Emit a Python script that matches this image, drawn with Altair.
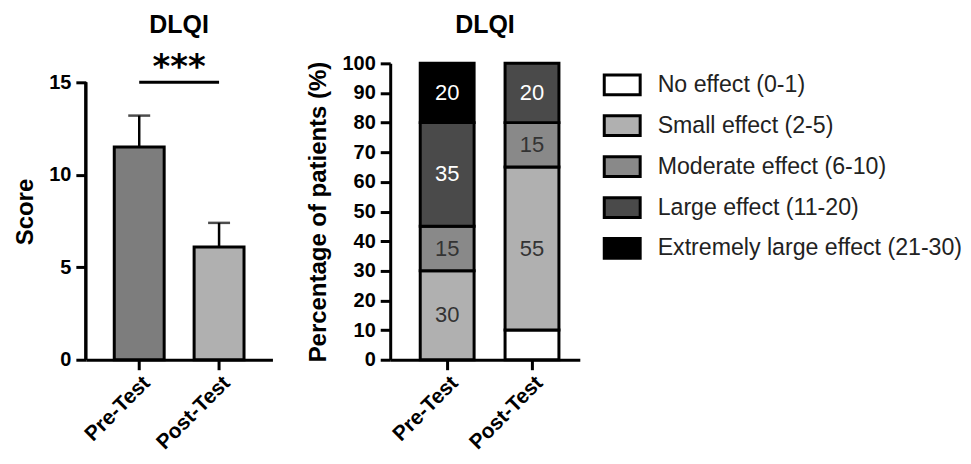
import altair as alt
import pandas as pd

# ---- data ----
conditions = ["Pre-Test", "Post-Test"]
score_mean = [11.5, 6.1]
score_upper = [13.2, 7.4]
sig_level = [15, 15]
score_ticks = [0, 5, 10, 15]

effects = [
    "No effect (0-1)",
    "Small effect (2-5)",
    "Moderate effect (6-10)",
    "Large effect (11-20)",
    "Extremely large effect (21-30)",
]
pre_pct = [0, 30, 15, 35, 20]
post_pct = [10, 55, 15, 20, 0]
pct_ticks = list(range(0, 101, 10))

effect_colors = ["#ffffff", "#b0b0b0", "#898989", "#4a4a4a", "#000000"]
score_colors = ["#7d7d7d", "#b0b0b0"]

FONT = "Liberation Sans"

score_df = pd.DataFrame({"cond": conditions, "mean": score_mean, "upper": score_upper})
sig_df = pd.DataFrame({"cond": conditions, "level": sig_level})

rows = []
for cond, vals in zip(conditions, [pre_pct, post_pct]):
    base = 0
    for rank, (eff, v) in enumerate(zip(effects, vals)):
        if v > 0:
            rows.append({"cond": cond, "effect": eff, "rank": rank, "pct": v, "mid": base + v / 2})
        base += v
pct_df = pd.DataFrame(rows)

PLOT_H = 297
LEFT_H = 278  # pixel span of 0..15 on the left axis

x_axis = alt.Axis(title=None, labelAngle=-45, labelFontSize=21, labelPadding=2)

# ---- left panel ----
xl = alt.X(
    "cond:N",
    sort=conditions,
    scale=alt.Scale(paddingInner=0.375, paddingOuter=0.356, align=0.5),
    axis=x_axis,
)
yl_scale = alt.Scale(domain=[0, max(score_ticks) * PLOT_H / LEFT_H], nice=False)
yl_axis = alt.Axis(values=score_ticks, title="Score", domain=False, labelOverlap=False)

axis_line = alt.Chart(sig_df).mark_rule(strokeWidth=3, color="black").encode(
    x=alt.value(0),
    y=alt.datum(0, scale=yl_scale, axis=yl_axis),
    y2=alt.datum(max(score_ticks)),
)
err = alt.Chart(score_df).mark_rule(strokeWidth=2.5, color="black").encode(
    x=xl, y=alt.Y("mean:Q", scale=yl_scale, axis=yl_axis), y2="upper:Q"
)
cap = alt.Chart(score_df).mark_tick(size=22, thickness=2.5, color="black").encode(
    x=xl, y=alt.Y("upper:Q", scale=yl_scale, axis=yl_axis)
)
bars = alt.Chart(score_df).mark_bar(stroke="black", strokeWidth=3).encode(
    x=xl,
    y=alt.Y("mean:Q", scale=yl_scale, axis=yl_axis),
    fill=alt.Fill("cond:N", scale=alt.Scale(domain=conditions, range=score_colors), legend=None),
)
sig = alt.Chart(sig_df).mark_line(strokeWidth=3, color="black").encode(
    x=xl, y=alt.Y("level:Q", scale=yl_scale, axis=yl_axis)
)

left = alt.layer(axis_line, err, cap, bars, sig).properties(
    width=187,
    height=PLOT_H,
    title=alt.TitleParams(
        "DLQI",
        subtitle="***",
        font=FONT,
        fontSize=25,
        fontWeight="bold",
        color="black",
        anchor="middle",
        frame="group",
        subtitleFont="DejaVu Sans",
        subtitleFontSize=34,
        subtitleFontWeight="bold",
        subtitleColor="black",
        subtitlePadding=13,
        offset=-22,
    ),
)

# ---- middle panel ----
xm = alt.X(
    "cond:N",
    sort=conditions,
    scale=alt.Scale(paddingInner=0.365, paddingOuter=0.3, align=0.59),
    axis=x_axis,
)
ym_scale = alt.Scale(domain=[0, 100])
ym_axis = alt.Axis(values=pct_ticks, title="Percentage of patients (%)", labelOverlap=False)

stack = alt.Chart(pct_df).mark_bar(stroke="black", strokeWidth=3).encode(
    x=xm,
    y=alt.Y("pct:Q", stack="zero", scale=ym_scale, axis=ym_axis),
    fill=alt.Fill(
        "effect:N",
        scale=alt.Scale(domain=effects, range=effect_colors),
        legend=alt.Legend(
            title=None,
            orient="none",
            legendX=213,
            legendY=2,
            symbolType="M-1,-0.55H1V0.55H-1Z",
            symbolSize=1296,
            symbolStrokeColor="black",
            symbolStrokeWidth=3,
            symbolOpacity=1,
            labelFont=FONT,
            labelFontSize=23.2,
            labelFontWeight="normal",
            labelColor="#222",
            labelOffset=16,
            labelLimit=400,
            rowPadding=5,
        ),
    ),
    order=alt.Order("rank:Q"),
)
labels = (
    alt.Chart(pct_df)
    .transform_filter("datum.rank > 0")
    .mark_text(font=FONT, fontSize=22)
    .encode(
        x=xm,
        y=alt.Y("mid:Q", scale=ym_scale, axis=ym_axis),
        text="pct:Q",
        color=alt.condition("datum.rank >= 3", alt.value("white"), alt.value("#333333")),
    )
)

middle = alt.layer(stack, labels).properties(
    width=190,
    height=PLOT_H,
    title=alt.TitleParams(
        "DLQI",
        font=FONT,
        fontSize=25,
        fontWeight="bold",
        color="black",
        anchor="middle",
        frame="group",
        offset=15,
    ),
)

chart = (
    alt.hconcat(left, middle, spacing=34)
    .resolve_scale(fill="independent", x="independent", y="independent")
    .properties(padding={"left": 5, "top": 5, "right": 0, "bottom": 0})
    .configure_view(stroke=None)
    .configure_axis(
        domainColor="black",
        domainWidth=3,
        tickColor="black",
        tickWidth=3,
        tickSize=10,
        labelFont=FONT,
        labelFontWeight="bold",
        labelFontSize=20,
        labelColor="black",
        labelPadding=5,
        titleFont=FONT,
        titleFontWeight="bold",
        titleFontSize=24,
        titleColor="black",
        titlePadding=11,
        grid=False,
    )
)

chart.save("out.html", embed_options={"renderer": "svg", "actions": False})
